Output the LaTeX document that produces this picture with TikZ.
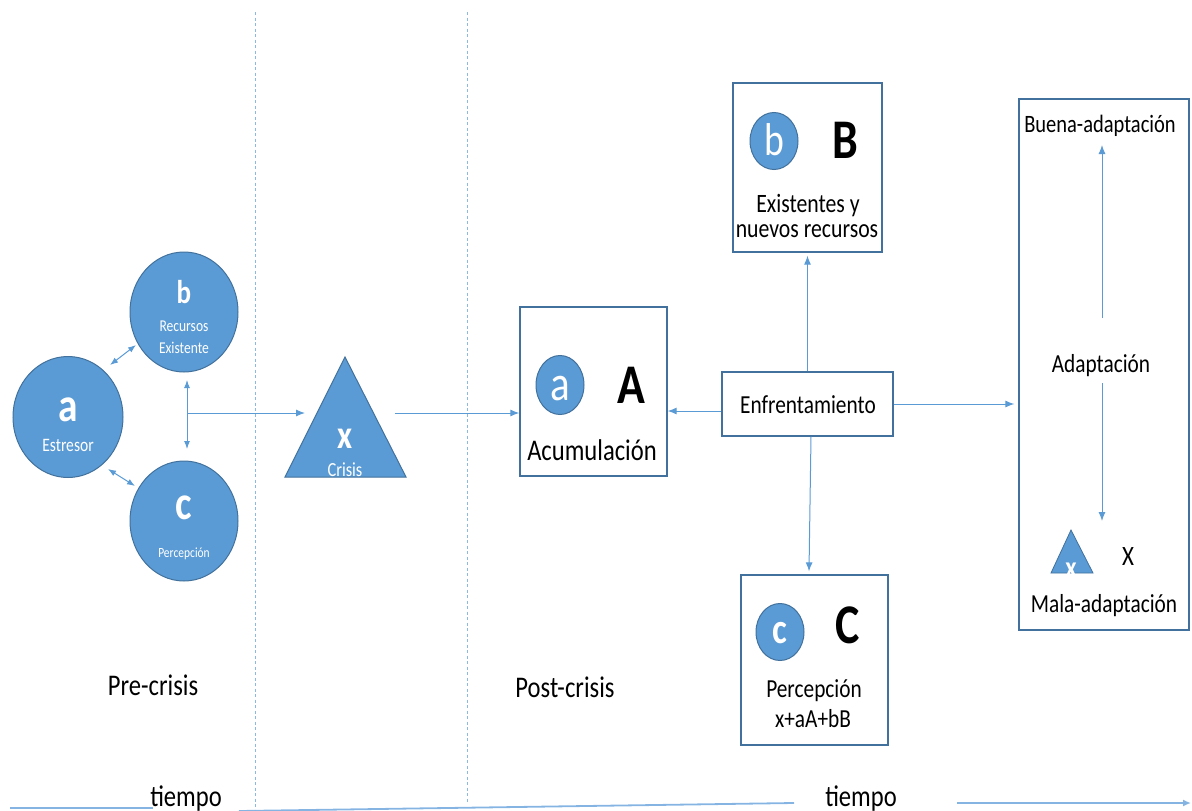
\documentclass[tikz,border=0pt]{standalone}
\usepackage{fontspec}
\setmainfont{Carlito}[FakeStretch=0.82]
\usetikzlibrary{arrows.meta,shapes.geometric}
\newcommand\setfs[1]{\fontsize{#1}{#1}\selectfont}
\definecolor{accent}{HTML}{5B9BD5}
\definecolor{accentdark}{HTML}{41719C}
\definecolor{guide}{HTML}{8DB8E6}
\tikzset{
  blob/.style={ellipse, fill=accent, draw=accentdark, line width=1pt, inner sep=0pt},
  frame/.style={rectangle, draw=accentdark, line width=1.3pt, fill=white, inner sep=0pt},
  conn/.style={draw=accent, line width=1pt},
  arr/.style={conn, -{Latex[length=9pt,width=7pt]}},
  darr/.style={conn, {Latex[length=8pt,width=6pt]}-{Latex[length=8pt,width=6pt]}},
  lbl/.style={anchor=base, inner sep=0pt, text=black},
  wlbl/.style={anchor=base, inner sep=0pt, text=white},
  phase/.style={draw=accent!70, line width=1pt, dash pattern=on 3pt off 2.5pt},
  axis/.style={draw=guide!85!accent, line width=1.8pt},
}
\begin{document}
\begin{tikzpicture}[x=1pt,y=-1pt]
\useasboundingbox (0,0) rectangle (1192,811);

% phase separators
\draw[phase] (255,12) -- (255,811);
\draw[phase] (467,12) -- (467,803);

% ---------- pre-crisis ----------
\node[blob, minimum width=110pt, minimum height=121pt] (ca) at (68,417) {};
\node[blob, minimum width=108pt, minimum height=120pt] (cb) at (184,312) {};
\node[blob, minimum width=108pt, minimum height=120pt] (cc) at (184,521) {};
\node[wlbl, font=\setfs{48}\bfseries] at (68,421) {a};
\node[wlbl, font=\setfs{19}] at (68,451) {Estresor};
\node[wlbl, font=\setfs{33}\bfseries] at (184,303) {b};
\node[wlbl, font=\setfs{16.5}] at (184,331) {Recursos};
\node[wlbl, font=\setfs{16.5}] at (184,353) {Existente};
\node[wlbl, font=\setfs{48}\bfseries] at (184,519) {c};
\node[wlbl, font=\setfs{14}] at (184,557) {Percepción};

\coordinate (ab1) at (110,365);
\coordinate (ab2) at (136,345);
\coordinate (ac1) at (108,469);
\coordinate (ac2) at (135,486);
\draw[darr] (ab1) -- (ab2);
\draw[darr] (ac1) -- (ac2);
\coordinate (vtop) at (187,380);
\coordinate (vbot) at (187,449);
\coordinate (junc) at (187,413);
\draw[darr] (vtop) -- (vbot);

% crisis triangle
\filldraw[fill=accent, draw=accentdark, line width=1pt] (345,357) -- (406,477) -- (285,477) -- cycle;
\coordinate (trileft) at (305,413);
\coordinate (triright) at (395,413);
\node[wlbl, font=\setfs{40}\bfseries] (xcrisis) at (345,448) {x};
\node[wlbl, font=\setfs{20}] at (345,476) {Crisis};
\draw[arr] (junc) -- (trileft);

% ---------- post-crisis ----------
\node[frame, minimum width=147pt, minimum height=169pt] (boxa) at (593.5,391.5) {};
\node[blob, minimum width=48pt, minimum height=59pt] at (560,385) {};
\node[wlbl, font=\setfs{50}] at (560,400) {a};
\node[lbl, font=\setfs{56}\bfseries] at (631,403) {A};
\node[lbl, font=\setfs{30}] at (592,460) {Acumulación};
\draw[arr] (triright) -- (triright -| boxa.west);

\node[frame, minimum width=171pt, minimum height=64pt] (enf) at (807.5,404) {};
\node[lbl, font=\setfs{26}] at (808,413) {Enfrentamiento};

\node[frame, minimum width=149pt, minimum height=169pt] (boxb) at (807.5,167.5) {};
\node[blob, minimum width=48pt, minimum height=57pt] at (774,141) {};
\node[wlbl, font=\setfs{46}] at (774,155) {b};
\node[lbl, font=\setfs{56}\bfseries] at (845,158) {B};
\node[lbl, font=\setfs{26.5}] at (808,212) {Existentes y};
\node[lbl, font=\setfs{26.5}] at (807,237) {nuevos recursos};

\node[frame, minimum width=147pt, minimum height=170pt] (boxc) at (814.5,660) {};
\node[blob, minimum width=48pt, minimum height=57pt] at (780,632) {};
\node[wlbl, font=\setfs{43}\bfseries] at (780,643) {c};
\node[lbl, font=\setfs{56}\bfseries] at (848,643) {C};
\node[lbl, font=\setfs{26}] at (814,697) {Percepción};
\node[lbl, font=\setfs{26}] at (813,727) {x+aA+bB};

\node[frame, minimum width=170pt, minimum height=531pt] (boxr) at (1104,364.5) {};
\node[lbl, font=\setfs{25}] (buena) at (1100,132) {Buena-adaptación};
\node[lbl, font=\setfs{26}] (adapt) at (1101,372) {Adaptación};
\node[lbl, font=\setfs{26}] (mala) at (1104,612) {Mala-adaptación};
\filldraw[fill=accent, draw=accentdark, line width=0.8pt] (1071,530) -- (1093,573) -- (1051,573) -- cycle;
\node[wlbl, font=\setfs{30}\bfseries] at (1071,577) {x};
\node[lbl, font=\setfs{28}] at (1128,565) {X};
\coordinate (upfrom) at (1102,318);
\coordinate (upto) at (1102,145);
\coordinate (downfrom) at (1102,383);
\coordinate (downto) at (1102,521);
\draw[arr] (upfrom) -- (upto);
\draw[arr] (downfrom) -- (downto);

% coping connectors
\draw[arr] ([yshift=-7pt]enf.west) -- ([yshift=-7pt]enf.west -| boxa.east);
\draw[arr] (enf.east) -- ([xshift=-4pt]enf.east -| boxr.west);
\draw[arr] (enf.north) -- ([yshift=-3pt]boxb.south);
\draw[arr] ([xshift=3.5pt]enf.south) -- ([xshift=-5.5pt,yshift=3pt]boxc.north);

% phase labels
\node[lbl, font=\setfs{30}] at (153,695) {Pre-crisis};
\node[lbl, font=\setfs{30}] at (565,697) {Post-crisis};

% time axis
\coordinate (t0) at (10,808);
\coordinate (t1) at (153,808);
\coordinate (t2) at (239,811);
\coordinate (t3) at (794,803);
\coordinate (t4) at (957,803);
\coordinate (t5) at (1191,803);
\draw[axis] (t0) -- (t1);
\draw[axis] (t2) -- (t3);
\draw[axis, -{Latex[length=8pt,width=7pt]}] (t4) -- (t5);
\node[lbl, font=\setfs{30}] at (186,806) {tiempo};
\node[lbl, font=\setfs{30}] at (861,806) {tiempo};
\end{tikzpicture}
\end{document}
